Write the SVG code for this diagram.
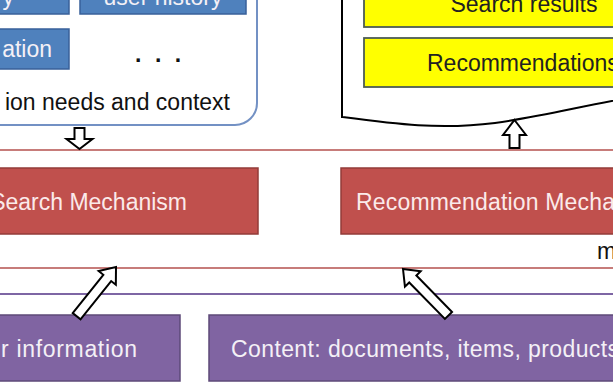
<svg xmlns="http://www.w3.org/2000/svg" width="613" height="383" viewBox="0 0 613 383">
<style>
text{font-family:"Liberation Sans",Arial,sans-serif;font-size:23px}
.blue{fill:#4f81bd;stroke:#38609a;stroke-width:1.5}
.yel{fill:#ffff00;stroke:#4d5c56;stroke-width:1.8}
.red{fill:#c0504d;stroke:#933b39;stroke-width:1.5}
.pur{fill:#8064a2;stroke:#5d4a78;stroke-width:1.5}
.wt{fill:#f4f0f6}
.arr{fill:#fff;stroke:#000;stroke-width:2;stroke-linejoin:miter}
</style>
<rect width="613" height="383" fill="#fff"/>
<g id="context">
<rect x="-60" y="-60" width="317" height="185" rx="22" fill="#fff" stroke="#7391c4" stroke-width="2"/>
<text x="230" y="110" text-anchor="end" fill="#111">ion needs and context</text>
</g>
<g id="query">
<rect class="blue" x="-20" y="-20" width="89" height="34"/>
<text x="14" y="5" text-anchor="end" class="wt">ry</text>
</g>
<g id="history">
<rect class="blue" x="80" y="-20" width="166" height="34"/>
<text x="163" y="5" text-anchor="middle" class="wt">user history</text>
</g>
<g id="location">
<rect class="blue" x="-20" y="29" width="89" height="40"/>
<text x="52" y="57" text-anchor="end" class="wt">ation</text>
</g>
<g id="more">
<text x="135" y="62" fill="#111" letter-spacing="13.5" font-weight="bold">...</text>
</g>
<g id="output">
<path d="M342,-10 V117 C395,124 440,130 495,123 C545,116 590,104 640,96 V-10 Z" fill="#fff" stroke="#000" stroke-width="2"/>
</g>
<g id="search-results">
<rect class="yel" x="364" y="-20" width="280" height="47"/>
<text x="524" y="12" text-anchor="middle" fill="#222">Search results</text>
</g>
<g id="recommendations">
<rect class="yel" x="364" y="38" width="280" height="49"/>
<text x="427" y="71" fill="#222">Recommendations</text>
</g>
<g id="search-mechanism">
<rect class="red" x="-20" y="168" width="278" height="66"/>
<text x="187" y="210" text-anchor="end" fill="#fbeaea">Search Mechanism</text>
</g>
<g id="recommendation-mechanism">
<rect class="red" x="341" y="168" width="300" height="66"/>
<text x="356" y="210" fill="#fbeaea" textLength="259">Recommendation Mecha</text>
</g>
<g id="m-label">
<text x="597" y="259" fill="#111">m</text>
</g>
<g id="user-info">
<rect class="pur" x="-20" y="315" width="200" height="66"/>
<text x="137" y="357" text-anchor="end" class="wt" textLength="136">r information</text>
</g>
<g id="content">
<rect class="pur" x="209" y="315" width="430" height="66"/>
<text x="231" y="357" class="wt" textLength="388">Content: documents, items, products</text>
</g>
<g id="connectors">
<line x1="0" y1="150" x2="613" y2="150" stroke="#b5504e" stroke-width="1.6"/>
<line x1="0" y1="268" x2="613" y2="268" stroke="#b5504e" stroke-width="1.6"/>
<line x1="0" y1="294" x2="613" y2="294" stroke="#7e66a4" stroke-width="2"/>
<path class="arr" transform="translate(79.5,149)" d="M0,0 L13,-10 L5,-10 L5,-21 L-5,-21 L-5,-10 L-13,-10 Z"/>
<path class="arr" transform="translate(514.5,120)" d="M0,0 L11.5,15 L5,15 L5,28 L-5,28 L-5,15 L-11.5,15 Z"/>
<path class="arr" transform="translate(116,267) rotate(38.7)" d="M0,0 L11,14 L5,14 L5,63 L-5,63 L-5,14 L-11,14 Z"/>
<path class="arr" transform="translate(403,269) rotate(-44.4)" d="M0,0 L11,14 L5,14 L5,65 L-5,65 L-5,14 L-11,14 Z"/>
</g>
</svg>
